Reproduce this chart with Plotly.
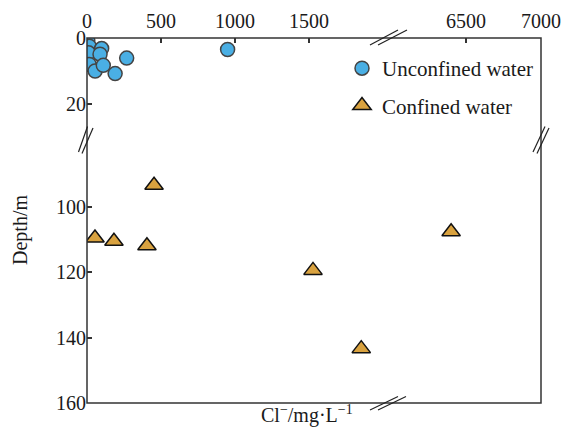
import plotly.graph_objects as go

# ---- data ----
unconf_cl = [5, 15, 10, 15, 55, 99, 88, 110, 190, 268, 950]
unconf_depth = [0.8, 2.5, 4.5, 8.0, 10.0, 3.2, 4.9, 8.3, 10.8, 6.1, 3.5]

conf_cl_low = [453, 54, 182, 405, 1527, 1853]
conf_depth_low = [93.5, 109.6, 110.6, 112.0, 119.5, 143.4]
conf_cl_high = [6400]
conf_depth_high = [107.7]

x_ticks_left = [0, 500, 1000, 1500]
x_ticks_right = [6500, 7000]
y_ticks_top = [0, 20]
y_ticks_bottom = [100, 120, 140, 160]

# ---- layout geometry ----
W, H = 563, 430
L, R, T, B = 87, 22, 38, 27
PW, PH = W - L - R, H - T - B

def px(X):
    return (X - L) / PW

def py(Y):
    return (H - B - Y) / PH

FONT = "Liberation Serif, Times New Roman, serif"
TXT = "#1a1a1a"
BLUE = "#4AAFE4"
GOLD = "#D9A23F"
AX = "#333333"

fig = go.Figure()
fig.add_trace(go.Scatter(
    x=unconf_cl, y=unconf_depth, mode="markers", name="Unconfined water",
    xaxis="x", yaxis="y", legendgroup="a",
    marker=dict(symbol="circle", size=14, color=BLUE, line=dict(color="#444444", width=1.5)),
))
fig.add_trace(go.Scatter(
    x=conf_cl_low, y=conf_depth_low, mode="markers", name="Confined water",
    xaxis="x", yaxis="y2", legendgroup="b",
    marker=dict(symbol="triangle-up", size=16, color=GOLD, line=dict(color="#111111", width=1.5)),
))
fig.add_trace(go.Scatter(
    x=conf_cl_high, y=conf_depth_high, mode="markers", name="Confined water",
    xaxis="x2", yaxis="y2", legendgroup="b", showlegend=False,
    marker=dict(symbol="triangle-up", size=16, color=GOLD, line=dict(color="#111111", width=1.5)),
))

axis_common = dict(
    showgrid=False, zeroline=False, showline=False,
    ticks="inside", ticklen=5, tickwidth=1.5, tickcolor=AX,
    tickfont=dict(family=FONT, size=20, color=TXT),
)

fig.update_layout(
    width=W, height=H,
    margin=dict(l=L, r=R, t=T, b=B, autoexpand=False),
    paper_bgcolor="white", plot_bgcolor="white",
    font=dict(family=FONT, size=20, color=TXT),
    xaxis=dict(domain=[0, 0.652], range=[0, 2000], side="top", anchor="y",
               tickvals=x_ticks_left, ticklabelstandoff=5, **axis_common),
    xaxis2=dict(domain=[0.670, 1], range=[6000, 7000], side="top", anchor="y",
                tickvals=x_ticks_right, ticklabelstandoff=5, **axis_common),
    yaxis=dict(domain=[0.729, 1], range=[30, 0], anchor="x",
               tickvals=y_ticks_top, **axis_common),
    yaxis2=dict(domain=[0, 0.7177], range=[160, 80], anchor="x",
                tickvals=y_ticks_bottom, **axis_common),
    showlegend=True,
    legend=dict(x=px(342), y=py(48), xanchor="left", yanchor="top",
                bgcolor="rgba(0,0,0,0)", font=dict(family=FONT, size=21, color=TXT),
                traceorder="grouped", tracegroupgap=7),
)

shapes = [dict(type="rect", xref="paper", yref="paper", x0=0, x1=1, y0=0, y1=1,
               line=dict(color=AX, width=1.5))]

def seg(X0, Y0, X1, Y1):
    return dict(type="line", xref="paper", yref="paper",
                x0=px(X0), y0=py(Y0), x1=px(X1), y1=py(Y1),
                line=dict(color="#222222", width=1.2))

# top break marks
shapes += [seg(370, 45, 398, 30), seg(378, 45, 407, 30)]
# bottom break marks
shapes += [seg(370, 410, 398, 396.5), seg(378, 410, 406, 396.5)]
# left break marks
shapes += [seg(78.5, 152, 87.5, 126.5), seg(82, 153.5, 93, 128)]
# right break marks
shapes += [seg(533, 152, 545, 126.5), seg(537, 153.5, 549, 128)]
fig.update_layout(shapes=shapes)

fig.add_annotation(text="Depth/m", xref="paper", yref="paper",
                   x=px(20), y=py(230), xanchor="center", yanchor="middle",
                   textangle=-90, showarrow=False,
                   font=dict(family=FONT, size=20, color=TXT))
fig.add_annotation(text="Cl<sup>−</sup>/mg·L<sup>−1</sup>", xref="paper", yref="paper",
                   x=px(307), y=py(414), xanchor="center", yanchor="middle",
                   showarrow=False,
                   font=dict(family=FONT, size=20, color=TXT))

fig.write_html("out.html")
